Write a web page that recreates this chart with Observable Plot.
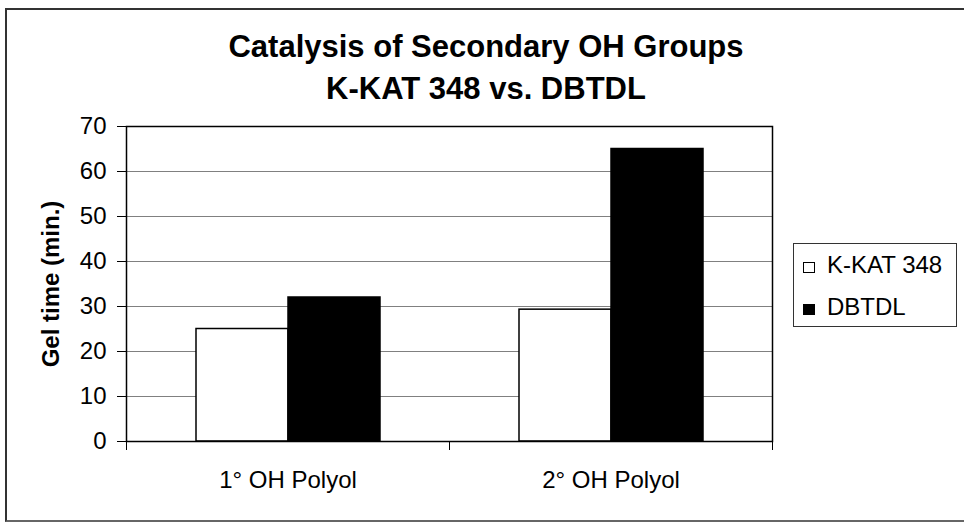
<!DOCTYPE html>
<html>
<head>
<meta charset="utf-8">
<script src="https://cdn.jsdelivr.net/npm/d3@7"></script>
<script src="https://cdn.jsdelivr.net/npm/@observablehq/plot@0.6"></script>
<style>
  html, body { margin: 0; padding: 0; background: #fff; overflow: hidden; }
  #wrap { position: relative; width: 964px; height: 523px; font-family: "Liberation Sans", Arial, sans-serif; color: #000; }
  #border { position: absolute; left: 5px; top: 8px; width: 1000px; height: 514px; box-sizing: border-box; border: 2px solid #333; border-bottom-color: #666; }
  #title { position: absolute; left: 0; top: 26px; width: 972px; text-align: center; font-size: 31px; font-weight: bold; line-height: 42px; }
  #chart { position: absolute; left: 0; top: 0; }
  #legend { position: absolute; left: 793px; top: 243px; width: 164px; height: 84px; box-sizing: border-box; border: 1px solid #333; font-size: 24px; line-height: 42px; }
  #legend .row { display: flex; align-items: baseline; padding-left: 9px; white-space: nowrap; }
  #legend .sw { display: inline-block; width: 12px; height: 11px; box-sizing: border-box; border: 1px solid #000; margin-right: 12px; }
  g[aria-label="y-axis label"] text { font-weight: bold; }
</style>
</head>
<body>
<div id="wrap">
  <div id="border"></div>
  <div id="title"></div>
  <div id="chart"></div>
  <div id="legend"></div>
</div>
<script>
const titleLines = ["Catalysis of Secondary OH Groups", "K-KAT 348 vs. DBTDL"];
const categories = ["1° OH Polyol", "2° OH Polyol"];
const series = ["K-KAT 348", "DBTDL"];
const kkat348 = [25, 29.3];
const dbtdl = [32, 65];
const yTicks = [0, 10, 20, 30, 40, 50, 60, 70];
const yLabel = "Gel time (min.)";
const seriesColors = ["#ffffff", "#000000"];

const values = [kkat348, dbtdl];
const rows = categories.flatMap((c, i) => series.map((s, j) => ({category: c, series: s, value: values[j][i]})));

document.getElementById("title").innerHTML = titleLines.map(t => `<div>${t}</div>`).join("");

const W = 964, H = 523, mL = 126, mR = 192, mT = 126, mB = 82;
const step = (W - mL - mR) / categories.length;

const chart = Plot.plot({
  width: W, height: H,
  marginLeft: mL, marginRight: mR, marginTop: mT, marginBottom: mB,
  style: {fontFamily: "'Liberation Sans', Arial, sans-serif", fontSize: "24px", background: "transparent", color: "#000", overflow: "visible"},
  fx: {domain: categories, padding: 0, label: null},
  x: {domain: series, paddingInner: 0, paddingOuter: 0.737, axis: null},
  y: {domain: [0, 70]},
  color: {domain: series, range: seriesColors},
  marks: [
    Plot.gridY(yTicks.slice(1, -1), {stroke: "#808080", strokeOpacity: 1, strokeWidth: 1}),
    Plot.barY(rows, {fx: "category", x: "series", y: "value", fill: "series", stroke: "#000", strokeWidth: 1.5}),
    Plot.frame({facet: "super", stroke: "#000", strokeWidth: 1.5}),
    Plot.axisY(yTicks, {tickSize: 9, tickPadding: 11, fontSize: 24, label: yLabel, labelAnchor: "center", labelArrow: "none", labelOffset: 85}),
    Plot.axisFx({anchor: "bottom", tickSize: 0, tickPadding: 29, fontSize: 24, label: null}),
    Plot.axisFx(categories, {anchor: "bottom", tickSize: 9, tickFormat: () => "", dx: -step / 2, label: null}),
    Plot.axisFx(categories.slice(-1), {anchor: "bottom", tickSize: 9, tickFormat: () => "", dx: step / 2, label: null})
  ]
});
document.getElementById("chart").appendChild(chart);

document.getElementById("legend").innerHTML = series.map((s, j) =>
  `<div class="row"><span class="sw" style="background:${seriesColors[j]}"></span><span>${s}</span></div>`).join("");
</script>
</body>
</html>
